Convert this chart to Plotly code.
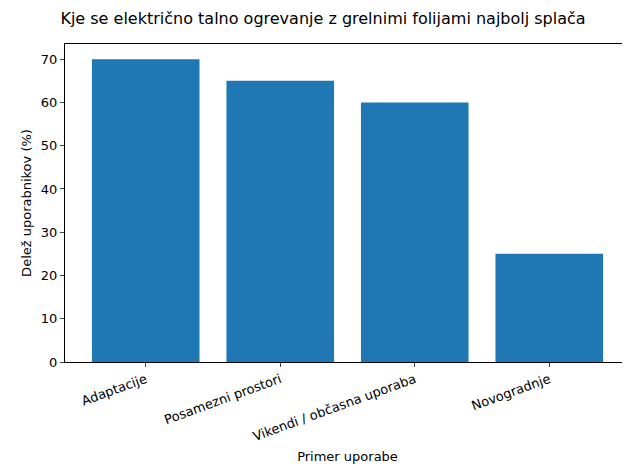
import plotly.graph_objects as go

categories = ["Adaptacije", "Posamezni prostori", "Vikendi / občasna uporaba", "Novogradnje"]
values = [70, 65, 60, 25]
yticks = [0, 10, 20, 30, 40, 50, 60, 70]

fig = go.Figure(go.Bar(x=list(range(len(categories))), y=values, width=0.8,
                       marker=dict(color="#1f77b4", line=dict(width=0))))
fig.update_layout(
    width=630, height=470, plot_bgcolor="white", paper_bgcolor="white",
    font=dict(family="DejaVu Sans", size=12, color="black"),
    margin=dict(l=57, r=8, t=36, b=116),
    title=dict(text="Kje se električno talno ogrevanje z grelnimi folijami najbolj splača",
               x=0.5, xanchor="center", y=0.977, yanchor="middle", font=dict(size=16)),
    showlegend=False,
)
fig.update_xaxes(range=[-0.6, 3.6], tickvals=list(range(len(categories))), ticktext=categories,
                 tickangle=-20, ticks="outside", ticklen=4, showline=True, linecolor="black",
                 mirror=True, showgrid=False, zeroline=False, automargin=False,
                 title=dict(text="Primer uporabe", standoff=8, font=dict(size=13)), tickfont=dict(size=13))
fig.update_yaxes(range=[0, 73.5], tickvals=yticks, ticks="outside", ticklen=4, showline=True,
                 linecolor="black", mirror=True, showgrid=False, zeroline=False, automargin=False,
                 title=dict(text="Delež uporabnikov (%)", standoff=6, font=dict(size=13)), tickfont=dict(size=13))
fig.write_html("out.html")
